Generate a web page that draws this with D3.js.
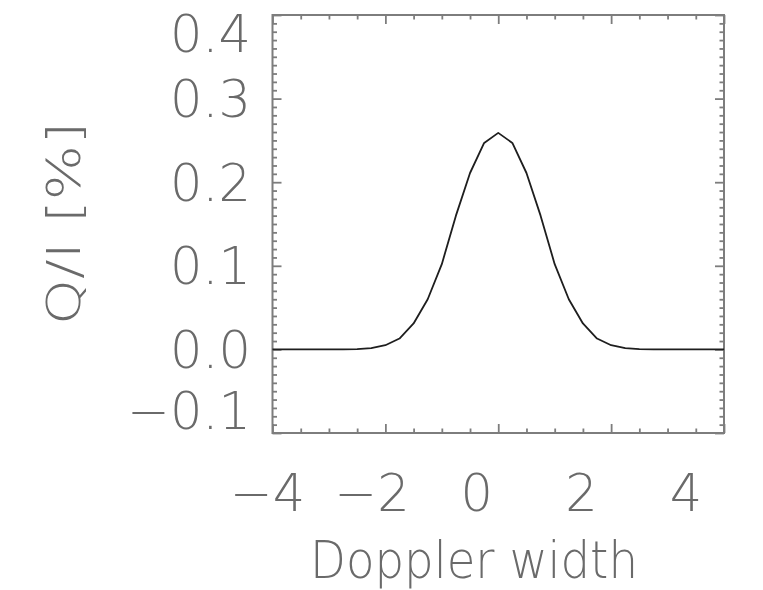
<!DOCTYPE html>
<html>
<head>
<meta charset="utf-8">
<script src="https://cdn.jsdelivr.net/npm/d3@7"></script>
<style>
  html, body { margin: 0; padding: 0; background: #fff; }
  svg text { font-family: "DejaVu Sans", sans-serif; font-weight: 200; fill: #6a6a6a; }
</style>
</head>
<body>
<svg id="chart" width="763" height="590"></svg>
<script>
// Profile samples: Doppler-width offset and Q/I in percent
const dopplerX = [-4, -3.75, -3.5, -3.25, -3, -2.75, -2.5, -2.25, -2, -1.75, -1.5, -1.25, -1, -0.75, -0.5, -0.25,
                  0, 0.25, 0.5, 0.75, 1, 1.25, 1.5, 1.75, 2, 2.25, 2.5, 2.75, 3, 3.25, 3.5, 3.75, 4];
const qOverI = [0, 0, 0, 0, 0, 0.0001, 0.0004, 0.0015, 0.005, 0.013, 0.031, 0.060, 0.102, 0.160, 0.211, 0.247,
                0.259, 0.247, 0.211, 0.160, 0.102, 0.060, 0.031, 0.013, 0.005, 0.0015, 0.0004, 0.0001, 0, 0, 0, 0, 0];

const xMajor = [-4, -2, 0, 2, 4];
const xLabels = ["\u22124", "\u22122", "0", "2", "4"];
const yMajor = [-0.1, 0, 0.1, 0.2, 0.3, 0.4];
const yLabels = ["\u22120.1", "0.0", "0.1", "0.2", "0.3", "0.4"];
const xTitle = "Doppler width";
const yTitle = "Q/I [%]";

const svg = d3.select("#chart");
const L = 272.5, R = 724, T = 15, B = 433;

const x = d3.scaleLinear().domain([-4, 4]).range([L, R]);
const y = d3.scaleLinear().domain([-0.1, 0.4]).range([B, T]);
// tick labels sit on a slightly tighter track than the tick marks
const xLab = d3.scaleLinear().domain([-4, 4]).range([267.5, 686]);

const xMinor = d3.range(-4, 4.001, 0.5).filter(v => Math.abs(v % 2) > 1e-9);
const yMinor = d3.range(-0.1, 0.4001, 0.01).filter(v => Math.abs(Math.round(v * 10) - v * 10) > 1e-6);

const axisColor = "#7d7d7d";
function styleAxis(g) {
  g.select(".domain").remove();
  g.selectAll("line").attr("stroke", axisColor).attr("stroke-width", 1.8);
  g.selectAll("text").remove();
}

// bottom and top axes (ticks point into the plot)
svg.append("g").attr("transform", `translate(0,${B})`)
  .call(d3.axisBottom(x).tickValues(xMajor).tickSize(-9).tickSizeOuter(0)).call(styleAxis);
svg.append("g").attr("transform", `translate(0,${B})`)
  .call(d3.axisBottom(x).tickValues(xMinor).tickSize(-4.5).tickSizeOuter(0)).call(styleAxis);
svg.append("g").attr("transform", `translate(0,${T})`)
  .call(d3.axisTop(x).tickValues(xMajor).tickSize(-9).tickSizeOuter(0)).call(styleAxis);
svg.append("g").attr("transform", `translate(0,${T})`)
  .call(d3.axisTop(x).tickValues(xMinor).tickSize(-4.5).tickSizeOuter(0)).call(styleAxis);

// left and right axes
svg.append("g").attr("transform", `translate(${L},0)`)
  .call(d3.axisLeft(y).tickValues(yMajor).tickSize(-9).tickSizeOuter(0)).call(styleAxis);
svg.append("g").attr("transform", `translate(${L},0)`)
  .call(d3.axisLeft(y).tickValues(yMinor).tickSize(-4.5).tickSizeOuter(0)).call(styleAxis);
svg.append("g").attr("transform", `translate(${R},0)`)
  .call(d3.axisRight(y).tickValues(yMajor).tickSize(-9).tickSizeOuter(0)).call(styleAxis);
svg.append("g").attr("transform", `translate(${R},0)`)
  .call(d3.axisRight(y).tickValues(yMinor).tickSize(-4.5).tickSizeOuter(0)).call(styleAxis);

// frame
svg.append("rect")
  .attr("x", L).attr("y", T).attr("width", R - L).attr("height", B - T)
  .attr("fill", "none").attr("stroke", axisColor).attr("stroke-width", 2);

// profile curve
const line = d3.line().x((d, i) => x(dopplerX[i])).y(d => y(d));
svg.append("path").datum(qOverI)
  .attr("d", line)
  .attr("fill", "none").attr("stroke", "#1e1e1e").attr("stroke-width", 1.8)
  .attr("stroke-linejoin", "round");

// x tick labels
svg.append("g").selectAll("text").data(xMajor).join("text")
  .attr("x", d => xLab(d)).attr("y", 510.5)
  .attr("text-anchor", "middle").attr("font-size", 51)
  .text((d, i) => xLabels[i]);

// y tick labels (end labels kept inside the frame height)
svg.append("g").selectAll("text").data(yMajor).join("text")
  .attr("x", 251)
  .attr("y", d => Math.max(52, Math.min(429, y(d) + 18.5)))
  .attr("text-anchor", "end").attr("font-size", 51)
  .text((d, i) => yLabels[i]);

// axis titles
svg.append("text")
  .attr("x", 310).attr("y", 578)
  .attr("font-size", 51).attr("textLength", 328).attr("lengthAdjust", "spacingAndGlyphs")
  .text(xTitle);

svg.append("text")
  .attr("transform", "translate(80,325) rotate(-90)")
  .attr("x", 0).attr("y", 0)
  .attr("font-size", 46).attr("textLength", 203).attr("lengthAdjust", "spacingAndGlyphs")
  .text(yTitle);
</script>
</body>
</html>
